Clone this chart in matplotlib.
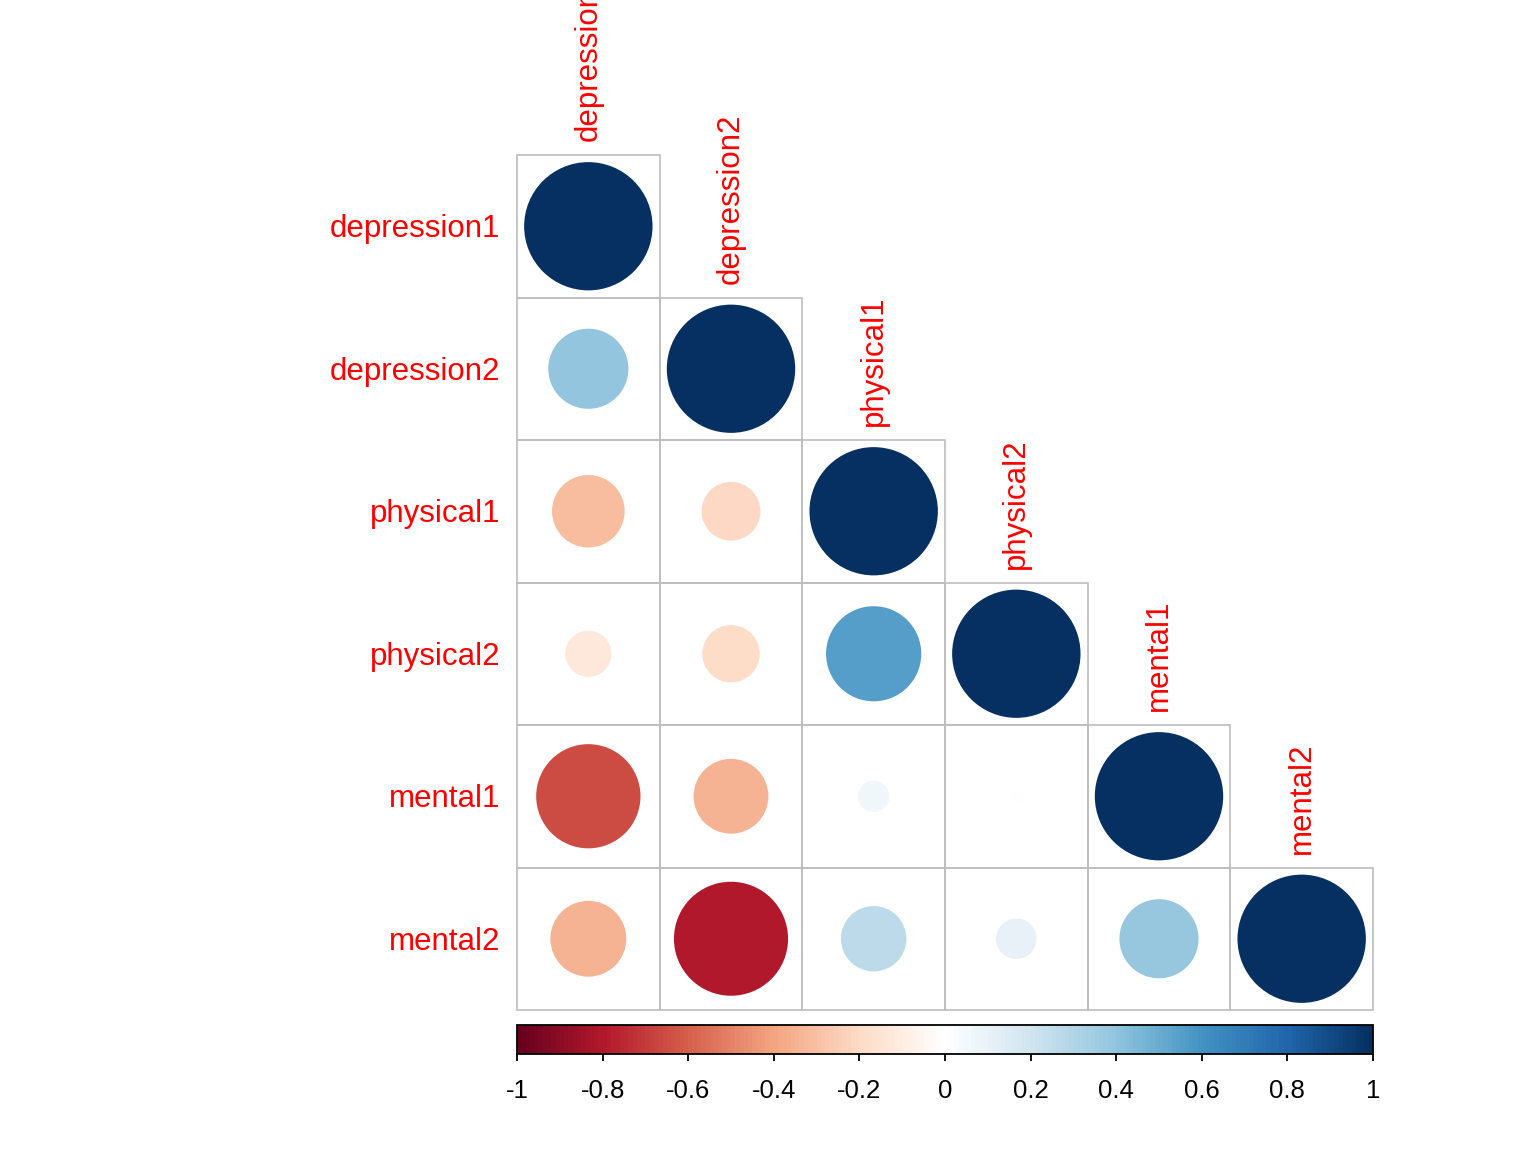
import matplotlib
matplotlib.use("Agg")
import matplotlib.pyplot as plt
import numpy as np
from matplotlib.colors import LinearSegmentedColormap, Normalize
from matplotlib.patches import Ellipse, Rectangle
import matplotlib.colorbar as mcolorbar

plt.rcParams['font.family'] = ['Liberation Sans', 'DejaVu Sans']

variables = ["depression1", "depression2", "physical1", "physical2", "mental1", "mental2"]

# lower-triangle correlations, row by row (including diagonal)
row_depression1 = [1.00]
row_depression2 = [0.39, 1.00]
row_physical1 = [-0.32, -0.21, 1.00]
row_physical2 = [-0.13, -0.20, 0.55, 1.00]
row_mental1 = [-0.66, -0.34, 0.06, -0.01, 1.00]
row_mental2 = [-0.35, -0.79, 0.26, 0.10, 0.38, 1.00]
rows = [row_depression1, row_depression2, row_physical1, row_physical2, row_mental1, row_mental2]

cbar_ticks = [-1, -0.8, -0.6, -0.4, -0.2, 0, 0.2, 0.4, 0.6, 0.8, 1]
cbar_ticklabels = ["-1", "-0.8", "-0.6", "-0.4", "-0.2", "0", "0.2", "0.4", "0.6", "0.8", "1"]

palette = ["#67001F", "#B2182B", "#D6604D", "#F4A582", "#FDDBC7", "#FFFFFF",
           "#D1E5F0", "#92C5DE", "#4393C3", "#2166AC", "#053061"]
cmap = LinearSegmentedColormap.from_list("corrRdBu", palette, N=200)
norm = Normalize(-1, 1)

W, H = 1536, 1152
fig = plt.figure(figsize=(W / 100, H / 100), dpi=100)

gl, gr, gt, gb = 517, 1373, 155, 1010
ax = fig.add_axes([gl / W, 1 - gb / H, (gr - gl) / W, (gb - gt) / H])
n = len(variables)
ax.set_xlim(0, n)
ax.set_ylim(0, n)
ax.axis("off")

grid_col = "#BEBEBE"
for i, row in enumerate(rows):
    yc = n - i - 0.5
    for j, r in enumerate(row):
        xc = j + 0.5
        ax.add_patch(Rectangle((j, n - i - 1), 1, 1, facecolor="none",
                               edgecolor=grid_col, lw=1.2, clip_on=False, zorder=1))
        rad = 0.45 * np.sqrt(abs(r))
        ax.add_patch(Ellipse((xc, yc), 2 * rad, 2 * rad, facecolor=cmap(norm(r)),
                             edgecolor="none", zorder=2, clip_on=False))

# row labels
for i, name in enumerate(variables):
    ax.annotate(name, xy=(0, n - i - 0.5), xytext=(-12, -2), textcoords="offset points",
                ha="right", va="center", color="red", fontsize=22.5, annotation_clip=False)

# column labels above diagonal cells
for j, name in enumerate(variables):
    ax.annotate(name, xy=(j + 0.5, n - j), xytext=(0, 10), textcoords="offset points",
                ha="center", va="bottom", rotation=90, color="red", fontsize=22.5,
                annotation_clip=False)

# colorbar
ct, cb = 1025, 1054
cax = fig.add_axes([gl / W, 1 - cb / H, (gr - gl) / W, (cb - ct) / H])
cbar = mcolorbar.ColorbarBase(cax, cmap=cmap, norm=norm, orientation="horizontal")
cbar.set_ticks(cbar_ticks)
cbar.set_ticklabels(cbar_ticklabels)
cbar.outline.set_linewidth(1.3)
cbar.outline.set_edgecolor("black")
cax.tick_params(axis="x", length=5, width=1.3, pad=13, labelsize=18.5, colors="black")

fig.savefig("out.png", dpi=100)
